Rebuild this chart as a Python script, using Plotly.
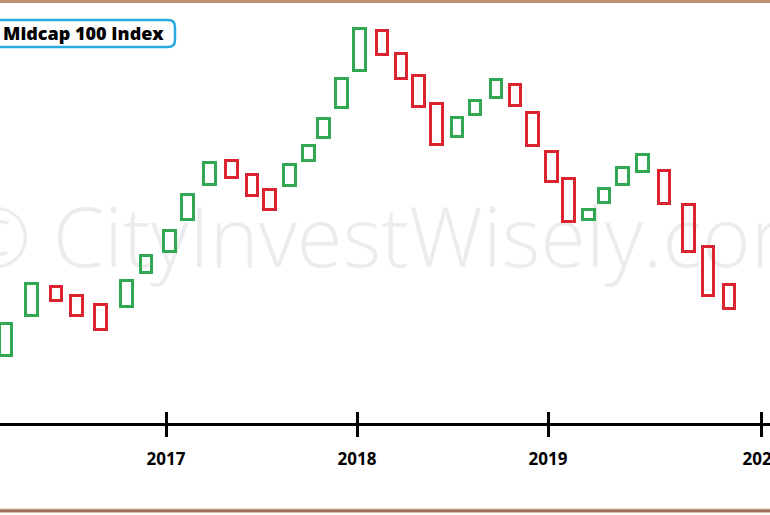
import plotly.graph_objects as go

# ---------------- data ----------------
# period position in decimal years
periods = [2016.162, 2016.298, 2016.427, 2016.534, 2016.660, 2016.796, 2016.898,
           2017.021, 2017.115, 2017.230, 2017.346, 2017.453, 2017.545, 2017.649,
           2017.749, 2017.827, 2017.921, 2018.016, 2018.134, 2018.233, 2018.325,
           2018.419, 2018.526, 2018.620, 2018.730, 2018.830, 2018.921, 2019.021,
           2019.110, 2019.215, 2019.296, 2019.393, 2019.497, 2019.610, 2019.738,
           2019.840, 2019.950]
open_vals = [12135, 13335, 14205, 13935, 13665, 13605, 14625, 15255, 16215, 17265,
             17985, 17565, 17115, 17235, 17985, 18675, 19575, 20685, 21885, 21195,
             20535, 19695, 18705, 19365, 19875, 20265, 19425, 18255, 17445, 16215,
             16725, 17265, 17655, 17685, 16665, 15405, 14265]
close_vals = [13095, 14295, 13785, 13335, 12915, 14385, 15135, 15885, 16965, 17925,
              17475, 16935, 16515, 17865, 18435, 19245, 20445, 21945, 21165, 20445,
              19605, 18465, 19275, 19785, 20415, 19635, 18435, 17355, 16155, 16515,
              17145, 17775, 18165, 16695, 15255, 13935, 13545]
tick_positions = [2017.0, 2018.0, 2019.0, 2020.12]
tick_labels = ["2017", "2018", "2019", "2020"]
title_text = "Midcap 100 Index"
watermark_text = "© CityInvestWisely.com"

# ---------------- styling ----------------
GREEN = "rgb(48,168,82)"
RED = "rgb(218,36,48)"
W, H = 770, 515
MT, MB = 0, 92
PLOT_H = H - MT - MB
X_RANGE = [2016.1309, 2020.1623]
Y_RANGE = [10110, 22800]


def px2x(px):
    return px / W


def py2y(py):
    return (PLOT_H - py) / PLOT_H


lows = [min(o, c) for o, c in zip(open_vals, close_vals)]
heights = [abs(c - o) for o, c in zip(open_vals, close_vals)]
line_colors = [GREEN if c >= o else RED for o, c in zip(open_vals, close_vals)]

fig = go.Figure()
fig.add_trace(go.Bar(
    x=periods, y=heights, base=lows, width=0.06,
    marker=dict(color="rgba(0,0,0,0)", line=dict(color=line_colors, width=3)),
    hoverinfo="skip", showlegend=False,
))
# invisible trace for overlay axis
fig.add_trace(go.Scatter(x=[periods[0]], y=[lows[0]], xaxis="x2", mode="markers",
                         marker=dict(opacity=0), hoverinfo="skip", showlegend=False))

tickfont = dict(family="Open Sans", size=17, color="black", weight="bold")
fig.update_layout(
    width=W, height=H,
    margin=dict(l=0, r=0, t=MT, b=MB, pad=0),
    paper_bgcolor="white", plot_bgcolor="rgba(0,0,0,0)",
    xaxis=dict(range=X_RANGE, showgrid=False, zeroline=False, showline=True,
               linecolor="black", linewidth=3, ticks="outside", ticklen=11,
               tickwidth=2.5, tickcolor="black", tickmode="array",
               tickvals=tick_positions, ticktext=tick_labels, tickfont=tickfont,
               automargin=False, fixedrange=True, ticklabelstandoff=8,
               ticklabeloverflow="allow"),
    xaxis2=dict(range=X_RANGE, overlaying="x", side="bottom", anchor="y",
                showgrid=False, zeroline=False, showline=False, ticks="inside",
                ticklen=11, tickwidth=2.5, tickcolor="black", tickmode="array",
                tickvals=tick_positions, showticklabels=False, automargin=False),
    yaxis=dict(range=Y_RANGE, visible=False, fixedrange=True),
    bargap=0,
)

shapes = []
# watermark (below the boxes)
wm_c, wm_half = 393, 440
shapes.append(dict(type="rect", xref="paper", yref="paper", layer="below",
                   x0=px2x(wm_c - wm_half), x1=px2x(wm_c + wm_half),
                   y0=py2y(285), y1=py2y(195),
                   line=dict(width=0), fillcolor="rgba(0,0,0,0)",
                   label=dict(text=watermark_text, textposition="middle center",
                              font=dict(family="Open Sans", size=83,
                                        color="rgb(236,236,236)", weight=300))))
# title rounded box
l, r, t, b, rad = -10, 175, 20, 47, 7
rx, ry = rad / W, rad / PLOT_H
X0, X1, Y0, Y1 = px2x(l), px2x(r), py2y(b), py2y(t)
path = (f"M {X0+rx},{Y1} L {X1-rx},{Y1} Q {X1},{Y1} {X1},{Y1-ry} "
        f"L {X1},{Y0+ry} Q {X1},{Y0} {X1-rx},{Y0} L {X0+rx},{Y0} "
        f"Q {X0},{Y0} {X0},{Y0+ry} L {X0},{Y1-ry} Q {X0},{Y1} {X0+rx},{Y1} Z")
shapes.append(dict(type="path", xref="paper", yref="paper", path=path,
                   line=dict(color="rgb(40,170,225)", width=2.5),
                   fillcolor="white"))
# image border (top and bottom)
shapes.append(dict(type="rect", xref="paper", yref="paper",
                   x0=0, x1=1, y0=py2y(3), y1=py2y(0),
                   line=dict(width=0), fillcolor="rgb(192,142,112)"))
shapes.append(dict(type="rect", xref="paper", yref="paper",
                   x0=0, x1=1, y0=py2y(513), y1=py2y(508.5),
                   line=dict(width=0), fillcolor="rgb(225,190,170)"))
shapes.append(dict(type="rect", xref="paper", yref="paper",
                   x0=0, x1=1, y0=py2y(512), y1=py2y(509.5),
                   line=dict(width=0), fillcolor="rgb(160,112,95)"))
fig.update_layout(shapes=shapes)

fig.add_annotation(text=title_text, xref="paper", yref="paper",
                   x=px2x(166), y=py2y(33.5), xanchor="right", yanchor="middle",
                   showarrow=False,
                   font=dict(family="Open Sans", size=18, color="black", weight=800))

fig.write_html("out.html", config={"displayModeBar": False},
               post_script="document.body.style.margin='0';")
